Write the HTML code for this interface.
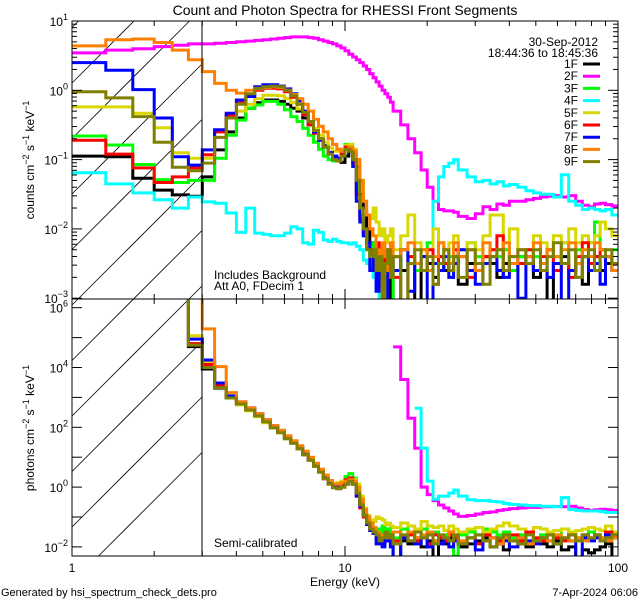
<!DOCTYPE html>
<html><head><meta charset="utf-8"><title>RHESSI spectra</title>
<style>
html,body{margin:0;padding:0;background:#fff;width:640px;height:600px;overflow:hidden;}
svg{display:block;font-family:"Liberation Sans",sans-serif;}
</style></head>
<body>
<svg id="chart" width="640" height="600" viewBox="0 0 640 600" xmlns="http://www.w3.org/2000/svg">
<defs>
<clipPath id="clipTop"><rect x="72" y="21" width="546" height="278"/></clipPath>
<clipPath id="clipBot"><rect x="72" y="299" width="546" height="257"/></clipPath>
</defs>
<rect x="0" y="0" width="640" height="600" fill="#fff"/>
<text x="345" y="15" font-size="14" text-anchor="middle">Count and Photon Spectra for RHESSI Front Segments</text>
<g id="hatch" stroke="#000" stroke-width="0.8"></g>
<g id="seriesTop" clip-path="url(#clipTop)"></g>
<g id="seriesBot" clip-path="url(#clipBot)"></g>
<line x1="202" y1="21" x2="202" y2="556" stroke="#000" stroke-width="1"/>
<rect x="72" y="21" width="546" height="278" fill="none" stroke="#000" stroke-width="1"/>
<rect x="72" y="299" width="546" height="257" fill="none" stroke="#000" stroke-width="1"/>
<g id="axes" stroke="#000" stroke-width="1"></g>
<g id="labels" font-size="12"></g>
<text transform="translate(34,160) rotate(-90)" font-size="12" text-anchor="middle">counts cm<tspan dy="-5" font-size="9">−2</tspan><tspan dy="5"> s</tspan><tspan dy="-5" font-size="9">−1</tspan><tspan dy="5"> keV</tspan><tspan dy="-5" font-size="9">−1</tspan></text>
<text transform="translate(34,428) rotate(-90)" font-size="12" text-anchor="middle">photons cm<tspan dy="-5" font-size="9">−2</tspan><tspan dy="5"> s</tspan><tspan dy="-5" font-size="9">−1</tspan><tspan dy="5"> keV</tspan><tspan dy="-5" font-size="9">−1</tspan></text>
<text x="345" y="586" font-size="12" text-anchor="middle">Energy (keV)</text>
<text x="598" y="46" font-size="12" text-anchor="end">30-Sep-2012</text>
<text x="598" y="57" font-size="12" text-anchor="end">18:44:36 to 18:45:36</text>
<text x="214" y="279" font-size="12">Includes Background</text>
<text x="214" y="290" font-size="12">Att A0, FDecim 1</text>
<text x="214" y="547" font-size="12">Semi-calibrated</text>
<text x="1" y="596" font-size="11">Generated by hsi_spectrum_check_dets.pro</text>
<text x="638" y="596" font-size="11" text-anchor="end">7-Apr-2024 06:06</text>
<g id="legend" font-size="12"></g>
</svg>
<script>
const energyEdges = [1,1.33,1.67,2,2.33,2.67,3,3.33,3.67,4,4.33,4.67,5,5.33,5.67,6,6.33,6.67,7,7.33,7.67,8,8.33,8.67,9,9.33,9.67,10,10.33,10.67,11,11.33,11.67,12,12.33,12.67,13,13.33,13.67,14,14.33,14.67,15,16,17,18,19,20,21,22,23,24,25,26,28,30,32,34,36,38,40,43,46,49,52,55,58,62,66,70,74,78,82,86,90,95,100];
const seriesNames = ["1F","2F","3F","4F","5F","6F","7F","8F","9F"];
const seriesColors = ["#000000","#ff00ff","#00ff00","#00ffff","#d8d800","#ff0000","#0000ff","#ff8000","#808000"];
const xTicksMajor = [1,10,100];
const xTickLabels = ["1","10","100"];
const yTopDecades = [1,0,-1,-2,-3];
const yBotDecades = [6,4,2,0,-2];

// log10 counts per bin
const counts1F = [-0.95,-0.96,-1.27,-1.44,-1.51,-1.53,-1.25,-0.86,-0.60,-0.40,-0.26,-0.18,-0.14,-0.14,-0.16,-0.20,-0.26,-0.30,-0.40,-0.50,-0.60,-0.70,-0.80,-0.90,-0.97,-1.02,-1.04,-0.95,-0.86,-0.90,-1.10,-1.50,-1.70,-2.00,-2.2,-2.5,-2.4,-2.7,-2.3,-2.6,-2.5,-3.3,-2.4,-2.6,-2.5,-3.4,-2.4,-2.5,-2.7,-2.4,-2.6,-2.5,-2.4,-2.8,-2.5,-2.6,-2.4,-2.5,-2.7,-2.5,-2.6,-2.4,-2.5,-2.7,-2.6,-3.4,-2.5,-2.4,-2.6,-2.5,-2.8,-2.5,-2.4,-2.6,-2.5,-2.6];
const counts2F = [0.54,0.58,0.60,0.63,0.65,0.67,0.67,0.68,0.69,0.70,0.71,0.72,0.73,0.74,0.75,0.76,0.77,0.77,0.77,0.76,0.75,0.73,0.71,0.69,0.67,0.64,0.61,0.57,0.52,0.48,0.44,0.40,0.35,0.30,0.24,0.18,0.12,0.06,0.0,-0.05,-0.1,-0.17,-0.3,-0.5,-0.7,-0.9,-1.15,-1.4,-1.6,-1.72,-1.74,-1.74,-1.76,-1.82,-1.85,-1.78,-1.68,-1.72,-1.64,-1.66,-1.6,-1.6,-1.58,-1.56,-1.54,-1.53,-1.52,-1.54,-1.52,-1.6,-1.66,-1.68,-1.64,-1.63,-1.65,-1.67];
const counts3F = [-0.66,-0.79,-1.07,-1.29,-1.33,-1.30,-1.30,-0.98,-0.65,-0.43,-0.26,-0.21,-0.16,-0.16,-0.20,-0.28,-0.38,-0.45,-0.55,-0.65,-0.75,-0.85,-0.95,-1.00,-1.02,-1.00,-0.92,-0.78,-0.78,-0.95,-1.40,-1.80,-2.10,-2.30,-2.4,-2.2,-2.5,-2.3,-2.6,-2.4,-2.3,-2.5,-3.4,-2.3,-2.4,-2.6,-2.3,-2.2,-2.5,-2.4,-2.3,-2.4,-2.5,-2.3,-2.2,-2.4,-2.5,-2.3,-2.4,-2.3,-2.6,-2.4,-2.3,-2.4,-2.5,-2.3,-2.4,-2.2,-2.6,-2.3,-2.4,-2.2,-1.9,-2.3,-2.4,-2.3];
const counts4F = [-1.19,-1.35,-1.48,-1.58,-1.70,-1.54,-1.61,-1.63,-1.77,-2.05,-1.7,-2.06,-2.08,-2.1,-2.1,-2.06,-1.97,-2.0,-2.2,-2.22,-2.02,-2.05,-2.16,-2.18,-2.15,-2.18,-2.2,-2.2,-2.22,-2.2,-2.25,-2.3,-2.45,-2.5,-2.55,-2.7,-2.9,-3.1,-3.3,-3.4,-3.4,-3.4,-3.5,-3.5,-3.5,-3.3,-3.4,-3.2,-1.6,-1.25,-1.1,-1.05,-1.0,-1.15,-1.25,-1.32,-1.3,-1.35,-1.32,-1.38,-1.36,-1.4,-1.45,-1.48,-1.5,-1.5,-1.54,-1.22,-1.6,-1.66,-1.72,-1.7,-1.72,-1.74,-1.72,-1.8];
const counts5F = [-0.24,-0.24,-0.33,-0.54,-0.90,-0.98,-0.98,-0.60,-0.40,-0.30,-0.20,-0.12,-0.07,-0.07,-0.08,-0.12,-0.18,-0.27,-0.35,-0.45,-0.55,-0.65,-0.75,-0.83,-0.88,-0.88,-0.85,-0.80,-0.78,-0.85,-1.00,-1.30,-1.60,-1.80,-1.85,-1.7,-1.9,-2.1,-2.0,-2.2,-2.1,-2.0,-2.3,-2.1,-1.8,-2.2,-2.3,-2.4,-2.0,-2.2,-2.3,-2.2,-2.1,-2.3,-2.2,-2.3,-2.1,-1.8,-1.8,-2.2,-2.0,-2.3,-2.4,-2.1,-2.2,-2.3,-2.1,-2.2,-2.0,-2.2,-2.1,-2.2,-2.1,-1.9,-2.0,-2.1];
const counts6F = [-0.72,-0.92,-1.12,-1.33,-1.25,-1.12,-0.93,-0.60,-0.36,-0.16,-0.08,0.00,0.03,0.03,0.02,-0.02,-0.10,-0.20,-0.35,-0.50,-0.62,-0.72,-0.82,-0.90,-0.95,-0.98,-0.92,-0.82,-0.85,-1.05,-1.50,-1.85,-2.05,-2.20,-2.3,-2.6,-2.2,-2.8,-2.5,-2.3,-2.6,-2.4,-2.7,-3.4,-2.4,-2.5,-2.6,-2.3,-2.8,-2.4,-2.5,-2.6,-2.3,-2.4,-2.7,-2.5,-2.4,-2.3,-2.1,-2.6,-2.4,-2.5,-2.3,-2.6,-2.4,-2.3,-2.6,-2.5,-2.7,-2.4,-2.2,-2.5,-2.4,-2.3,-2.4,-2.5];
const counts7F = [0.40,0.29,0.01,-0.40,-0.96,-1.08,-0.86,-0.57,-0.33,-0.14,-0.09,0.05,0.08,0.08,0.06,0.02,-0.05,-0.15,-0.30,-0.45,-0.60,-0.72,-0.82,-0.90,-0.95,-0.98,-0.95,-0.85,-0.88,-1.10,-1.60,-1.90,-2.10,-2.20,-2.6,-2.4,-2.9,-2.3,-2.7,-3.4,-2.5,-2.4,-2.6,-2.3,-2.9,-2.5,-2.4,-3.4,-2.5,-2.6,-2.4,-2.7,-2.5,-2.3,-2.6,-2.8,-2.5,-2.4,-2.6,-2.7,-2.5,-3.0,-2.4,-2.6,-2.5,-2.7,-2.5,-3.4,-2.6,-2.5,-2.4,-2.6,-2.5,-2.8,-2.4,-2.6];
const counts8F = [0.64,0.73,0.74,0.69,0.58,0.44,0.27,0.10,0.00,-0.04,0.00,0.02,0.04,0.05,0.04,0.00,-0.06,-0.12,-0.20,-0.30,-0.42,-0.52,-0.60,-0.70,-0.78,-0.85,-0.88,-0.85,-0.82,-0.88,-1.00,-1.30,-1.60,-1.80,-2.0,-2.1,-2.3,-2.5,-2.2,-2.4,-2.6,-2.2,-2.4,-2.3,-2.2,-2.5,-2.3,-2.6,-2.4,-2.2,-2.3,-2.5,-2.2,-2.4,-2.3,-2.6,-2.2,-2.4,-2.3,-2.2,-2.5,-2.3,-2.4,-2.2,-2.5,-2.3,-2.4,-2.3,-2.2,-2.5,-2.3,-2.4,-2.2,-2.3,-2.4,-2.6];
const counts9F = [-0.02,-0.11,-0.38,-0.75,-1.11,-1.16,-1.05,-0.68,-0.40,-0.20,-0.05,0.03,0.05,0.06,0.05,0.00,-0.08,-0.20,-0.32,-0.45,-0.58,-0.70,-0.82,-0.92,-1.00,-1.02,-0.95,-0.85,-0.88,-1.00,-1.30,-1.70,-2.00,-2.30,-2.4,-2.3,-2.6,-2.4,-3.0,-2.5,-2.3,-2.7,-2.4,-3.2,-2.5,-2.3,-2.6,-2.4,-2.8,-2.5,-2.3,-2.6,-2.4,-2.7,-2.3,-2.5,-2.8,-2.4,-2.3,-2.6,-2.4,-2.3,-2.5,-2.3,-2.6,-2.4,-2.2,-2.5,-2.3,-2.7,-2.4,-2.3,-2.6,-2.4,-2.3,-2.5];

// log10 photons per bin, starting at bin index given by photonStart
const photonStart = [4,42,4,45,4,4,4,4,4];
const photons1F = [7,4.70,3.95,3.31,2.98,2.78,2.6,2.4,2.2,2.0,1.85,1.65,1.5,1.3,1.1,0.92,0.72,0.52,0.3,0.12,0.0,-0.05,0.0,0.1,0.2,0.1,-0.25,-0.6,-0.9,-1.2,-1.4,-1.5,-1.6,-1.7,-1.9,-1.6,-1.8,-1.7,-2.4,-1.8,-1.9,-1.7,-2.0,-1.8,-2.4,-1.8,-1.9,-1.7,-1.8,-2.0,-1.9,-1.8,-1.7,-2.0,-1.9,-2.1,-1.8,-1.9,-2.0,-1.8,-1.9,-2.0,-1.8,-2.1,-2.0,-2.4,-2.1,-2.2,-2.1,-2.0,-1.9,-2.4];
const photons2F = [4.69,3.6,2.3,1.3,0.0,-0.25,-0.45,-0.6,-0.7,-0.8,-0.9,-0.98,-0.95,-0.9,-0.85,-0.83,-0.78,-0.75,-0.72,-0.7,-0.68,-0.68,-0.66,-0.66,-0.65,-0.66,-0.64,-0.7,-0.75,-0.78,-0.76,-0.74,-0.76,-0.78];
const photons3F = [7,4.80,4.15,3.40,3.0,2.8,2.62,2.42,2.22,2.02,1.86,1.66,1.5,1.32,1.12,0.94,0.74,0.55,0.35,0.18,0.05,0.05,0.15,0.35,0.45,0.3,-0.1,-0.5,-0.85,-1.1,-1.3,-1.45,-1.4,-1.5,-1.3,-1.6,-1.4,-1.5,-1.7,-1.4,-1.6,-1.5,-1.4,-1.6,-1.5,-1.7,-1.6,-1.5,-2.3,-1.6,-1.5,-1.6,-1.4,-1.5,-1.6,-1.5,-1.7,-1.6,-1.5,-1.7,-1.6,-1.5,-1.6,-1.4,-1.6,-1.7,-1.6,-1.5,-1.6,-1.7,-1.5,-1.6];
const photons4F = [2.64,1.3,0.2,-0.4,-0.3,-0.3,-0.2,-0.1,-0.3,-0.42,-0.45,-0.45,-0.48,-0.5,-0.55,-0.58,-0.6,-0.62,-0.62,-0.64,-0.64,-0.66,-0.35,-0.75,-0.78,-0.8,-0.8,-0.8,-0.82,-0.85,-0.85];
const photons5F = [7,5.06,4.2,3.4,3.02,2.75,2.55,2.35,2.15,1.98,1.82,1.62,1.48,1.3,1.12,0.95,0.78,0.6,0.4,0.22,0.12,0.15,0.2,0.25,0.3,0.25,0.1,-0.3,-0.7,-0.95,-1.1,-1.15,-1.0,-1.05,-1.1,-1.25,-1.2,-1.3,-1.35,-1.2,-1.3,-1.4,-1.15,-1.3,-1.35,-1.3,-1.45,-1.3,-1.4,-1.5,-1.4,-1.35,-1.5,-1.4,-1.3,-1.2,-1.3,-1.4,-1.5,-1.35,-1.4,-1.5,-1.45,-1.4,-1.5,-1.45,-1.4,-1.35,-1.4,-1.45,-1.3,-1.5];
const photons6F = [7,4.80,4.1,3.38,3.0,2.8,2.6,2.4,2.2,2.0,1.85,1.65,1.5,1.28,1.08,0.9,0.7,0.5,0.28,0.1,0.02,0.0,0.1,0.25,0.3,0.15,-0.3,-0.7,-1.0,-1.25,-1.45,-1.55,-1.7,-1.9,-1.6,-1.8,-1.7,-1.9,-1.8,-1.7,-1.6,-1.8,-1.7,-1.9,-1.6,-1.7,-1.8,-1.6,-1.7,-1.8,-1.7,-1.9,-1.6,-1.7,-1.8,-1.7,-1.6,-1.8,-1.5,-1.7,-1.8,-1.6,-1.7,-1.8,-1.6,-1.7,-1.6,-1.7,-1.6,-1.7,-1.5,-1.6];
const photons7F = [7,4.95,4.25,3.48,3.05,2.85,2.65,2.45,2.25,2.05,1.88,1.68,1.52,1.32,1.12,0.94,0.74,0.54,0.32,0.14,0.02,-0.03,0.02,0.12,0.22,0.1,-0.3,-0.65,-0.95,-1.25,-1.45,-1.55,-1.9,-1.7,-2.0,-1.6,-1.8,-2.0,-2.4,-1.7,-1.8,-1.9,-1.7,-2.0,-1.8,-1.9,-1.7,-2.0,-1.8,-1.9,-1.7,-2.1,-1.8,-1.7,-1.9,-1.8,-2.0,-1.7,-1.8,-1.9,-1.7,-1.8,-1.9,-1.7,-1.8,-2.4,-1.7,-1.8,-1.7,-1.8,-1.6,-1.7];
const photons8F = [6.6,6.6,5.29,4.03,3.16,2.85,2.65,2.45,2.25,2.05,1.9,1.72,1.55,1.38,1.2,1.0,0.8,0.6,0.4,0.22,0.1,0.1,0.15,0.2,0.25,0.2,0.0,-0.4,-0.75,-1.0,-1.2,-1.35,-1.5,-1.6,-1.7,-1.5,-1.6,-1.7,-1.5,-1.6,-1.5,-1.7,-1.6,-1.5,-1.8,-1.6,-1.7,-1.5,-1.6,-1.8,-1.7,-1.6,-1.8,-1.7,-1.9,-1.7,-1.8,-1.7,-1.9,-1.8,-1.7,-1.8,-1.6,-1.7,-1.8,-1.7,-1.8,-1.7,-1.6,-1.7,-1.8,-1.7];
const photons9F = [7,4.75,4.0,3.32,2.98,2.78,2.58,2.38,2.18,1.98,1.82,1.62,1.46,1.28,1.08,0.9,0.7,0.5,0.28,0.1,-0.02,-0.05,0.0,0.1,0.2,0.1,-0.2,-0.6,-0.95,-1.2,-1.4,-1.5,-1.6,-1.8,-1.7,-1.5,-1.7,-1.6,-1.9,-1.6,-1.8,-1.5,-1.7,-1.6,-1.9,-1.6,-1.7,-1.8,-1.6,-1.9,-1.7,-1.6,-1.8,-2.0,-1.7,-1.6,-1.8,-1.9,-1.6,-1.8,-1.7,-1.6,-1.9,-1.7,-1.6,-1.8,-1.6,-1.7,-1.6,-1.8,-1.7,-1.6];

const countsAll = [counts1F,counts2F,counts3F,counts4F,counts5F,counts6F,counts7F,counts8F,counts9F];
const photonsAll = [photons1F,photons2F,photons3F,photons4F,photons5F,photons6F,photons7F,photons8F,photons9F];

const NS = "http://www.w3.org/2000/svg";
const X0 = 72, XDEC = 273;
function xScale(e){ return X0 + XDEC*Math.log10(e); }
function yTop(l){ return 21 + (1-l)*69.3; }
function yBot(l){ return 307.7 + (6-l)*29.9; }
function mk(tag, attrs, parent){ const el=document.createElementNS(NS,tag); for(const k in attrs) el.setAttribute(k,attrs[k]); if(parent) parent.appendChild(el); return el; }

function stepPath(vals, start, yf, ymin, ymax){
  let d="";
  for(let j=0;j<vals.length;j++){
    const i=start+j;
    if(i+1>=energyEdges.length) break;
    const v=vals[j]; if(v===null) continue;
    const y=Math.max(ymin,Math.min(ymax,yf(v))).toFixed(1);
    const xa=xScale(energyEdges[i]).toFixed(1), xb=xScale(energyEdges[i+1]).toFixed(1);
    d += (d===""?"M":"L")+xa+","+y+"L"+xb+","+y;
  }
  return d;
}

const gTop=document.getElementById("seriesTop");
const gBot=document.getElementById("seriesBot");
for(let s=0;s<9;s++){
  const p=mk("path",{d:stepPath(countsAll[s],0,yTop,15,305),fill:"none",stroke:seriesColors[s],"stroke-width":3,"stroke-linejoin":"miter"},gTop);
  
  
  const q=mk("path",{d:stepPath(photonsAll[s],photonStart[s],yBot,293,562),fill:"none",stroke:seriesColors[s],"stroke-width":3,"stroke-linejoin":"miter"},gBot);
  
  
}

// hatching (45-degree lines inside the excluded 1-3 keV band)
const gH=document.getElementById("hatch");
for(let k=-1;k<=9;k++){
  const c=83+55.5*k;
  const xs=72+Math.max(0,c-556), ys=Math.min(c,556);
  const xe=Math.min(202,72+(c-21)), ye=c-(xe-72);
  if(xe<=xs) continue;
  const l=mk("line",{x1:xs,y1:ys,x2:xe,y2:ye},gH);
  
  
}

// axes ticks
const gA=document.getElementById("axes");
const gL=document.getElementById("labels");
function tick(x1,y1,x2,y2){ const t=mk("line",{x1:x1,y1:y1,x2:x2,y2:y2},gA);   }
for(let dec=0;dec<2;dec++){
  for(let m=1;m<=9;m++){
    const x=xScale(Math.pow(10,dec)*m);
    const len=(m===1)?10:5;
    if(m===1 && dec===0) continue;
    tick(x,299,x,299-len); tick(x,21,x,21+len);
    tick(x,556,x,556-len); tick(x,299,x,299+len);
  }
}
for(let l=-3;l<=1;l++){
  for(let m=1;m<=9;m++){
    const lv=l+Math.log10(m);
    if(lv>1.0001) break;
    const y=yTop(lv); const len=(m===1)?10:5;
    tick(72,y,72+len,y); tick(618,y,618-len,y);
  }
}
for(let l=-2;l<=6;l++){
  const y=yBot(l);
  tick(72,y,82,y); tick(618,y,608,y);
}
for(let i=0;i<xTicksMajor.length;i++){
  const t=mk("text",{x:xScale(xTicksMajor[i]),y:572,"text-anchor":"middle"},gL);
  t.textContent=xTickLabels[i];
  
  
}
function decLabel(l,y){
  const t=mk("text",{x:68,y:y+5,"text-anchor":"end"},gL);
  
  
  const a=mk("tspan",{},t); a.textContent="10";
  const b=mk("tspan",{dy:-6,"font-size":9},t); b.textContent=(l<0?"−":"")+Math.abs(l);
}
yTopDecades.forEach(l=>decLabel(l,yTop(l)));
yBotDecades.forEach(l=>decLabel(l,yBot(l)));

// legend
const gLeg=document.getElementById("legend");
for(let s=0;s<9;s++){
  const y=68+12.2*s;
  const t=mk("text",{x:578,y:y,"text-anchor":"end"},gLeg);
  t.textContent=seriesNames[s];
  
  
  const ln=mk("line",{x1:583,y1:y-4,x2:600,y2:y-4,stroke:seriesColors[s],"stroke-width":3},gLeg);
  
  
}
</script>
</body></html>
